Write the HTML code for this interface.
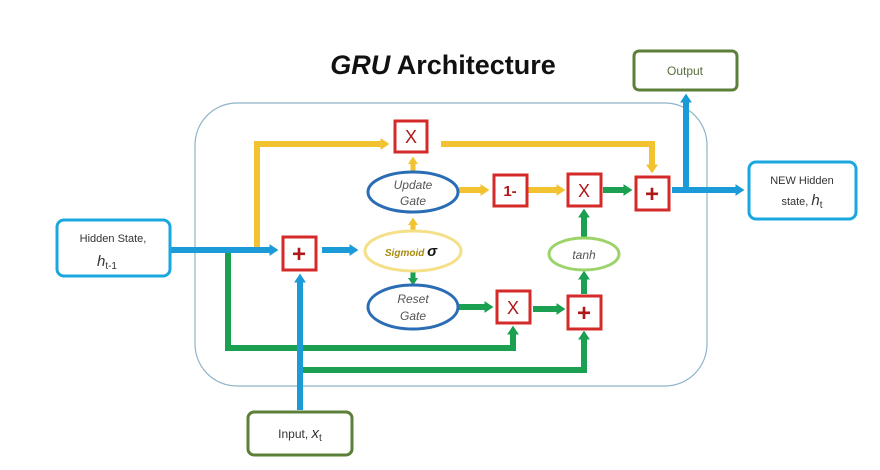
<!DOCTYPE html>
<html><head><meta charset="utf-8"><style>
body{margin:0;background:#fff;width:880px;height:465px;overflow:hidden}
svg text{font-family:"Liberation Sans",sans-serif}
</style></head><body>
<svg width="880" height="465" viewBox="0 0 880 465" xmlns="http://www.w3.org/2000/svg">
<defs>
<marker id="ab" markerWidth="2" markerHeight="2" refX="0.6" refY="1" orient="auto" markerUnits="strokeWidth"><path d="M0,0 L1.5,1 L0,2 z" fill="#1a9ad6"/></marker>
<marker id="ay" markerWidth="2" markerHeight="2" refX="0.6" refY="1" orient="auto" markerUnits="strokeWidth"><path d="M0,0 L1.5,1 L0,2 z" fill="#f2c230"/></marker>
<marker id="ag" markerWidth="2" markerHeight="2" refX="0.6" refY="1" orient="auto" markerUnits="strokeWidth"><path d="M0,0 L1.5,1 L0,2 z" fill="#1aa050"/></marker>
</defs>
<text x="443" y="74" text-anchor="middle" font-size="27" font-weight="bold" fill="#111"><tspan font-style="italic">GRU</tspan> Architecture</text>
<rect x="195" y="103" width="512" height="283" rx="42" fill="none" stroke="#8fb3c8" stroke-width="1.2"/>
<g fill="none" stroke="#f2c230" stroke-width="6">
<path d="M257,250 V144 H384" marker-end="url(#ay)"/>
<path d="M441,144 H652 V168" marker-end="url(#ay)"/>
<path d="M459,190 H484" marker-end="url(#ay)"/>
<path d="M528,190 H560" marker-end="url(#ay)"/>
<path d="M413,231 V222" stroke-width="5" marker-end="url(#ay)"/>
<path d="M413,171 V161" stroke-width="5" marker-end="url(#ay)"/>
</g>
<g fill="none" stroke="#1aa050" stroke-width="6">
<path d="M228,250 V348 H513 V331" marker-end="url(#ag)"/>
<path d="M300,370 H584 V336" marker-end="url(#ag)"/>
<path d="M413,271 V281" stroke-width="5" marker-end="url(#ag)"/>
<path d="M459,307 H488" marker-end="url(#ag)"/>
<path d="M533,309 H560" marker-end="url(#ag)"/>
<path d="M584,294 V276" marker-end="url(#ag)"/>
<path d="M584,237 V214" marker-end="url(#ag)"/>
<path d="M603,190 H627" marker-end="url(#ag)"/>
</g>
<g fill="none" stroke="#1a9ad6" stroke-width="6">
<path d="M170,250 H273" marker-end="url(#ab)"/>
<path d="M322,250 H353" marker-end="url(#ab)"/>
<path d="M300,410 V279" marker-end="url(#ab)"/>
<path d="M672,190 H739" marker-end="url(#ab)"/>
<path d="M686,190 V99" marker-end="url(#ab)"/>
</g>
<ellipse cx="413" cy="192" rx="45" ry="20" fill="#fff" stroke="#2a6db5" stroke-width="3"/>
<text x="413" y="189" text-anchor="middle" font-size="12" font-style="italic" fill="#555">Update</text>
<text x="413" y="205" text-anchor="middle" font-size="12" font-style="italic" fill="#555">Gate</text>
<ellipse cx="413" cy="251" rx="48" ry="20" fill="#fff" stroke="#f5e08a" stroke-width="3"/>
<text x="411" y="256" text-anchor="middle" font-size="10" font-style="italic" font-weight="bold" fill="#a88a10">Sigmoid <tspan font-size="15" fill="#111">σ</tspan></text>
<ellipse cx="413" cy="307" rx="45" ry="22" fill="#fff" stroke="#2a6db5" stroke-width="3"/>
<text x="413" y="303" text-anchor="middle" font-size="12" font-style="italic" fill="#555">Reset</text>
<text x="413" y="320" text-anchor="middle" font-size="12" font-style="italic" fill="#555">Gate</text>
<ellipse cx="584" cy="254" rx="35" ry="16" fill="#fff" stroke="#9cd36a" stroke-width="3"/>
<text x="584" y="259" text-anchor="middle" font-size="12" font-style="italic" fill="#555">tanh</text>
<g fill="#fff" stroke="#d42a2a" stroke-width="3">
<rect x="395" y="121" width="32" height="31"/>
<rect x="494" y="175" width="33" height="31"/>
<rect x="568" y="174" width="33" height="32"/>
<rect x="636" y="177" width="33" height="33"/>
<rect x="283" y="237" width="33" height="33"/>
<rect x="497" y="291" width="33" height="32"/>
<rect x="568" y="296" width="33" height="33"/>
</g>
<g font-size="18" text-anchor="middle" fill="#b01818">
<text x="411" y="143">X</text>
<text x="510" y="196" font-size="15" font-weight="bold">1-</text>
<text x="584" y="197">X</text>
<text x="652" y="202" font-size="24" font-weight="bold">+</text>
<text x="299" y="262" font-size="24" font-weight="bold">+</text>
<text x="513" y="314">X</text>
<text x="584" y="321" font-size="24" font-weight="bold">+</text>
</g>
<rect x="634" y="51" width="103" height="39" rx="5" fill="#fff" stroke="#5c7f3a" stroke-width="3"/>
<text x="685" y="75" text-anchor="middle" font-size="12" fill="#556b3a">Output</text>
<rect x="749" y="162" width="107" height="57" rx="7" fill="#fff" stroke="#1aa7e0" stroke-width="3"/>
<text x="802" y="184" text-anchor="middle" font-size="11" fill="#333">NEW Hidden</text>
<text x="802" y="205" text-anchor="middle" font-size="11" fill="#333">state, <tspan font-size="15" font-style="italic">h</tspan><tspan font-size="10" dy="3">t</tspan></text>
<rect x="57" y="220" width="113" height="56" rx="7" fill="#fff" stroke="#1aa7e0" stroke-width="3"/>
<text x="113" y="242" text-anchor="middle" font-size="11" fill="#333">Hidden State,</text>
<text x="107" y="266" text-anchor="middle" font-size="15" font-style="italic" fill="#333">h<tspan font-size="10" font-style="normal" dy="3">t-1</tspan></text>
<rect x="248" y="412" width="104" height="43" rx="6" fill="#fff" stroke="#5c7f3a" stroke-width="3"/>
<text x="300" y="438" text-anchor="middle" font-size="12" fill="#333">Input, <tspan font-size="15" font-style="italic">x</tspan><tspan font-size="10" dy="3">t</tspan></text>
</svg>
</body></html>
